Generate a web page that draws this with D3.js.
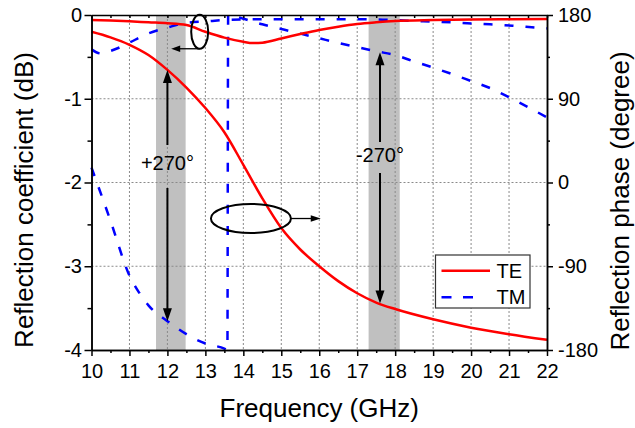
<!DOCTYPE html>
<html>
<head>
<meta charset="utf-8">
<script src="https://cdn.jsdelivr.net/npm/d3@7"></script>
<style>
  body { margin: 0; background: #fff; }
  svg { display: block; font-family: "Liberation Sans", Arial, sans-serif; }
</style>
</head>
<body>
<svg id="chart" width="635" height="428"></svg>
<script>
// ---- Data ---------------------------------------------------------------
// TE reflection magnitude (dB)
const teMagFreq = [10, 10.5, 11, 11.5, 12, 12.5, 13, 13.5, 14, 14.25, 14.5, 15, 15.5, 16, 16.5, 17, 17.5, 18, 19, 20, 21, 22];
const teMag     = [-0.06, -0.066, -0.075, -0.087, -0.098, -0.12, -0.2, -0.27, -0.32, -0.335, -0.33, -0.28, -0.227, -0.178, -0.139, -0.107, -0.087, -0.072, -0.06, -0.053, -0.05, -0.048];

// TE reflection phase (degree)
const tePhaseFreq = [10, 10.5, 11, 11.5, 12, 12.5, 13, 13.5, 14, 14.5, 15, 15.5, 16, 16.5, 17, 17.5, 18, 19, 20, 21, 22];
const tePhase     = [162, 156, 148, 137, 121, 102, 80, 54, 19, -17, -49, -72, -90, -106, -119, -129, -136, -147, -156, -163, -169];

// TM reflection magnitude (dB)
const tmMagFreq = [10, 10.25, 10.5, 10.8, 11, 11.5, 12, 12.5, 13, 13.5, 14, 15, 16, 17, 17.5, 18, 18.6, 19.2, 19.9, 20.5, 21.1, 21.6, 22];
const tmMag     = [-0.41, -0.46, -0.43, -0.375, -0.33, -0.22, -0.15, -0.093, -0.077, -0.06, -0.052, -0.05, -0.05, -0.05, -0.052, -0.062, -0.072, -0.082, -0.099, -0.111, -0.128, -0.146, -0.16];

// TM reflection phase (degree), wraps from -180 to +180 near 13.6 GHz
const tmPhaseFreq = [10, 10.5, 11, 11.25, 11.5, 12, 12.5, 13, 13.5, 13.58, 13.6, 14, 14.5, 15, 15.5, 16, 16.5, 17, 17.5, 18, 18.5, 19, 19.5, 20, 20.5, 21, 21.5, 22];
const tmPhase     = [16, -41, -100, -118, -132, -149, -163, -173, -178.5, -180, 180, 176, 170, 165, 160, 155, 150, 145.5, 141, 137, 130, 123.5, 116.5, 109, 101.5, 91.5, 81, 70];

// Axis ticks
const xTicks      = d3.range(10, 23, 1);
const xMinorTicks = d3.range(10.5, 22, 1);
const yLeftTicks  = [0, -1, -2, -3, -4];
const yLeftMinor  = [-0.5, -1.5, -2.5, -3.5];
const yRightTicks = [180, 90, 0, -90, -180];
const yRightMinor = [135, 45, -45, -135];

// Highlighted frequency bands (GHz)
const bands = [[11.7, 12.48], [17.3, 18.12]];

// Phase-difference arrows: frequency, TE/TM phases at the ends, label
const shiftArrows = [
  { f: 12,   top: 121, bottom: -149, label: "+270°" },
  { f: 17.6, top: 140, bottom: -130, label: "-270°" }
];

const seriesNames = ["TE", "TM"];

// ---- Layout -------------------------------------------------------------
const svg = d3.select("#chart");
const plot = { left: 91.5, right: 547, top: 15, bottom: 350 };

const x  = d3.scaleLinear().domain([10, 22]).range([plot.left, plot.right]);
const yL = d3.scaleLinear().domain([-4, 0]).range([plot.bottom, plot.top]);
const yR = d3.scaleLinear().domain([-180, 180]).range([plot.bottom, plot.top]);

const RED = "#ff0000", BLUE = "#0000ff";
const DASH = "9,12";

// ---- Bands --------------------------------------------------------------
svg.append("g").selectAll("rect").data(bands).join("rect")
  .attr("x", d => x(d[0])).attr("y", plot.top)
  .attr("width", d => x(d[1]) - x(d[0]))
  .attr("height", plot.bottom - plot.top)
  .attr("fill", "#c0c0c0");

// ---- Grid ---------------------------------------------------------------
const grid = svg.append("g").attr("stroke", "#8a8a8a").attr("stroke-width", 1).attr("stroke-dasharray", "2,2");
grid.selectAll("line.v").data(xTicks.slice(1, -1)).join("line")
  .attr("x1", d => x(d)).attr("x2", d => x(d))
  .attr("y1", plot.top).attr("y2", plot.bottom);
grid.selectAll("line.h").data(yLeftTicks.slice(1, -1)).join("line")
  .attr("x1", plot.left).attr("x2", plot.right)
  .attr("y1", d => yL(d)).attr("y2", d => yL(d));

// ---- Curves -------------------------------------------------------------
const zip = (a, b) => a.map((v, i) => [v, b[i]]);
const lineL = d3.line().x(d => x(d[0])).y(d => yL(d[1])).curve(d3.curveMonotoneX);
const lineR = d3.line().x(d => x(d[0])).y(d => yR(d[1])).curve(d3.curveMonotoneX);

const curves = svg.append("g").attr("fill", "none").attr("stroke-width", 2.5);
curves.append("path").attr("d", lineL(zip(tmMagFreq, tmMag)))
  .attr("stroke", BLUE).attr("stroke-dasharray", DASH);
curves.append("path").attr("d", lineR(zip(tmPhaseFreq, tmPhase)))
  .attr("stroke", BLUE).attr("stroke-dasharray", DASH);
curves.append("path").attr("d", lineL(zip(teMagFreq, teMag))).attr("stroke", RED);
curves.append("path").attr("d", lineR(zip(tePhaseFreq, tePhase))).attr("stroke", RED);

// ---- Annotations --------------------------------------------------------
const ann = svg.append("g");

function arrowHead(g, tipX, tipY, dirX, dirY, len, half) {
  const bx = tipX - dirX * len, by = tipY - dirY * len;
  const px = -dirY * half, py = dirX * half;
  g.append("path")
    .attr("d", `M${tipX},${tipY}L${bx + px},${by + py}L${bx - px},${by - py}Z`)
    .attr("fill", "#000");
}

const labelOffsets = [{ base: 170, gapTop: 145, gapBottom: 188 }, { base: 161.7, gapTop: 142, gapBottom: 173 }];
shiftArrows.forEach((a, i) => {
  const ax = x(a.f), yTop = yR(a.top), yBot = yR(a.bottom);
  const o = labelOffsets[i];
  ann.append("line").attr("x1", ax).attr("x2", ax).attr("y1", yTop + 10).attr("y2", o.gapTop)
    .attr("stroke", "#000").attr("stroke-width", 2);
  ann.append("line").attr("x1", ax).attr("x2", ax).attr("y1", o.gapBottom).attr("y2", yBot - 10)
    .attr("stroke", "#000").attr("stroke-width", 2);
  arrowHead(ann, ax, yTop, 0, -1, 13, 4.5);
  arrowHead(ann, ax, yBot, 0, 1, 13, 4.5);
  ann.append("text").attr("x", ax).attr("y", o.base).attr("text-anchor", "middle")
    .attr("font-size", 20).text(a.label);
});

// Ellipse marking the magnitude curves, pointing to the left axis
const e1 = { cx: x(12.85), cy: yL(-0.2), rx: 8.5, ry: 17 };
ann.append("ellipse").attr("cx", e1.cx).attr("cy", e1.cy).attr("rx", e1.rx).attr("ry", e1.ry)
  .attr("fill", "none").attr("stroke", "#000").attr("stroke-width", 2);
ann.append("line").attr("x1", e1.cx).attr("x2", x(12.1) + 7).attr("y1", e1.cy + e1.ry).attr("y2", e1.cy + e1.ry)
  .attr("stroke", "#000").attr("stroke-width", 1.3);
arrowHead(ann, x(12.1), e1.cy + e1.ry, -1, 0, 9, 3.2);

// Ellipse marking the phase curves, pointing to the right axis
const e2 = { cx: x(14.2), cy: yR(-38.7), rx: 40, ry: 14.5 };
ann.append("ellipse").attr("cx", e2.cx).attr("cy", e2.cy).attr("rx", e2.rx).attr("ry", e2.ry)
  .attr("fill", "none").attr("stroke", "#000").attr("stroke-width", 2);
ann.append("line").attr("x1", e2.cx + e2.rx).attr("x2", x(16.04) - 8).attr("y1", e2.cy).attr("y2", e2.cy)
  .attr("stroke", "#000").attr("stroke-width", 1.3);
arrowHead(ann, x(16.04), e2.cy, 1, 0, 10, 3.2);

// ---- Axes ---------------------------------------------------------------
function styleAxis(g) {
  g.selectAll("path.domain").attr("stroke", "#000").attr("stroke-width", 1.5);
  g.selectAll(".tick line").attr("stroke", "#000").attr("stroke-width", 1.5);
  g.selectAll(".tick text").attr("font-size", 20).attr("fill", "#000")
    .attr("font-family", "'Liberation Sans', Arial, sans-serif");
}
const fmt = d => String(d);

svg.append("g").attr("transform", `translate(0,${plot.bottom})`)
  .call(d3.axisBottom(x).tickValues(xTicks).tickSize(6).tickSizeOuter(0).tickPadding(8).tickFormat(fmt))
  .call(styleAxis);
svg.append("g").attr("transform", `translate(0,${plot.bottom})`)
  .call(d3.axisBottom(x).tickValues(xMinorTicks).tickSize(3).tickSizeOuter(0).tickFormat(""))
  .call(styleAxis);

svg.append("g").attr("transform", `translate(0,${plot.top})`)
  .call(d3.axisTop(x).tickValues(xTicks.concat(xMinorTicks)).tickSize(-3).tickSizeOuter(0).tickFormat(""))
  .call(styleAxis);

svg.append("g").attr("transform", `translate(${plot.left},0)`)
  .call(d3.axisLeft(yL).tickValues(yLeftTicks).tickSize(7).tickSizeOuter(0).tickPadding(2.5).tickFormat(fmt))
  .call(styleAxis);
svg.append("g").attr("transform", `translate(${plot.left},0)`)
  .call(d3.axisLeft(yL).tickValues(yLeftMinor).tickSize(4).tickSizeOuter(0).tickFormat(""))
  .call(styleAxis);

svg.append("g").attr("transform", `translate(${plot.right},0)`)
  .call(d3.axisRight(yR).tickValues(yRightTicks).tickSize(6).tickSizeOuter(0).tickPadding(5).tickFormat(fmt))
  .call(styleAxis);
svg.append("g").attr("transform", `translate(${plot.right},0)`)
  .call(d3.axisRight(yR).tickValues(yRightMinor).tickSize(3).tickSizeOuter(0).tickFormat(""))
  .call(styleAxis);

// ---- Axis titles --------------------------------------------------------
svg.append("text").attr("x", (plot.left + plot.right) / 2).attr("y", 417)
  .attr("text-anchor", "middle").attr("font-size", 26).text("Frequency (GHz)");
svg.append("text").attr("transform", "translate(33,200) rotate(-90)")
  .attr("text-anchor", "middle").attr("font-size", 26).text("Reflection coefficient (dB)");
svg.append("text").attr("transform", "translate(629,201) rotate(-90)")
  .attr("text-anchor", "middle").attr("font-size", 26).text("Reflection phase (degree)");

// ---- Legend -------------------------------------------------------------
const lg = svg.append("g").attr("transform", "translate(435.5,255)");
lg.append("rect").attr("width", 94.5).attr("height", 53)
  .attr("fill", "#fff").attr("stroke", "#333").attr("stroke-width", 1.2);
const legendRows = [
  { name: seriesNames[0], color: RED, dash: null, y: 15.7, x2: 54.5 },
  { name: seriesNames[1], color: BLUE, dash: "10,11.5", y: 42.3, x2: 38 }
];
legendRows.forEach(r => {
  lg.append("line").attr("x1", 6).attr("x2", r.x2).attr("y1", r.y).attr("y2", r.y)
    .attr("stroke", r.color).attr("stroke-width", 2.5)
    .attr("stroke-dasharray", r.dash);
  lg.append("text").attr("x", 61).attr("y", r.y + 7).attr("font-size", 20).text(r.name);
});
</script>
</body>
</html>
